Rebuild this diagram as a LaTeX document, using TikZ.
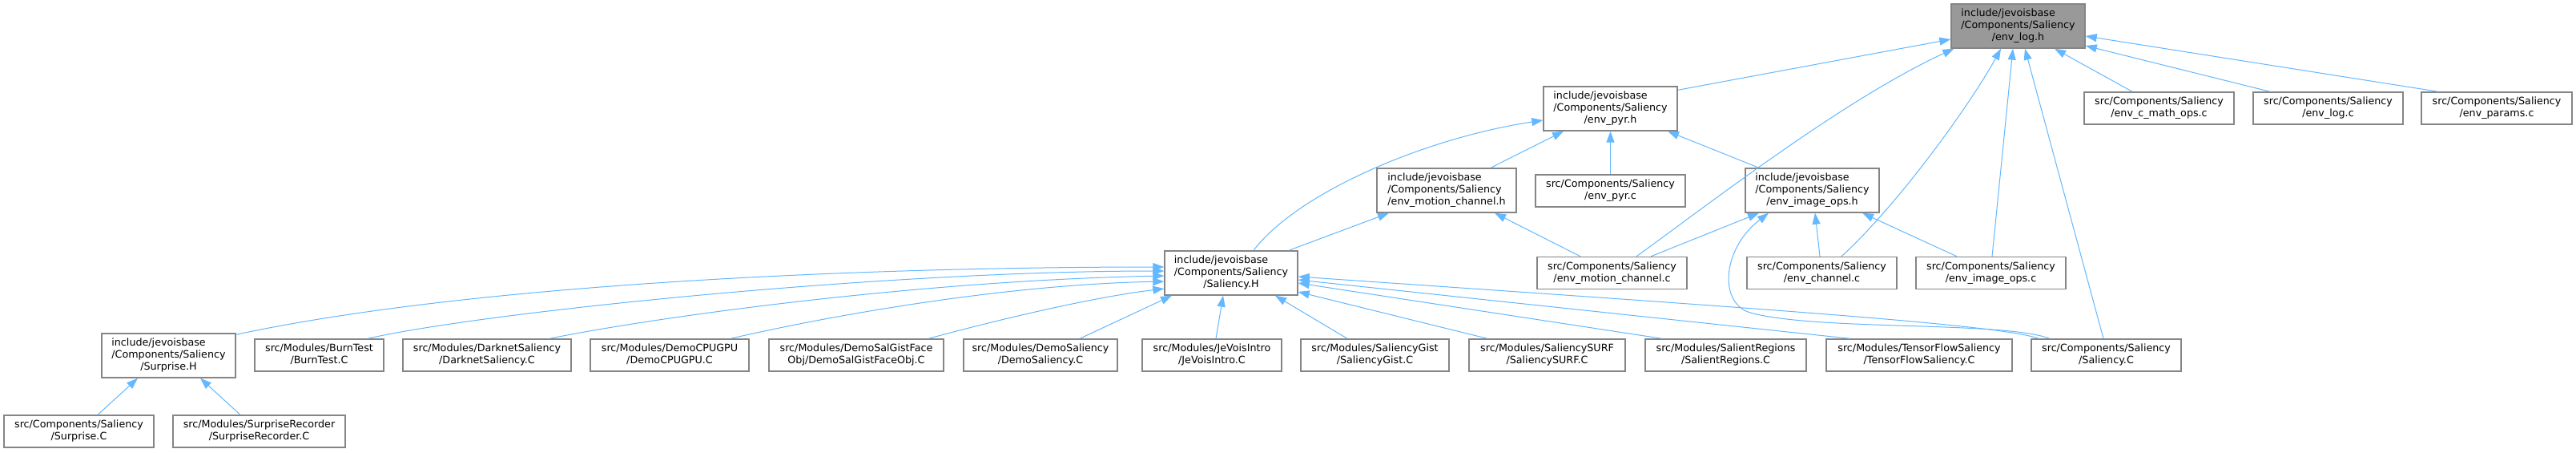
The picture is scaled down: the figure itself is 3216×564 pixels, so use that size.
\documentclass[tikz,border=0pt]{standalone}
\usepackage{fontspec}
\setmainfont{DejaVu Sans}
\usetikzlibrary{arrows.meta}
\definecolor{edgeblue}{HTML}{63B8FF}
\definecolor{greyforty}{HTML}{858585}
\definecolor{greysixty}{HTML}{999999}
\newcommand\tlab[3]{\begin{tabular}{@{}l@{}}#1\\#2\\\multicolumn{1}{@{}c@{}}{#3}\end{tabular}}
\newcommand\dlab[2]{\begin{tabular}{@{}l@{}}#1\\\multicolumn{1}{@{}c@{}}{#2}\end{tabular}}
\begin{document}
\begin{tikzpicture}[x=0.5pt,y=-0.5pt,
  nd/.style={draw=greyforty, fill=white, line width=0.7pt, inner xsep=1pt, inner ysep=0pt,
    font=\fontsize{6.35}{7.5}\selectfont, anchor=center, minimum height=20pt},
  thr/.style={nd, minimum height=27.5pt},
  edg/.style={draw=edgeblue, line width=0.5pt, -{Triangle[length=7pt,width=5pt]}, edgeblue}]
\fill[white] (0,0) rectangle (3216,564);
\path[use as bounding box] (0,0) rectangle (3216,564);
% nodes
\node[thr, fill=greysixty, minimum width=83.5pt] (envlogh) at (2519.5,32.5) {\tlab{include/jevoisbase}{/Components/Saliency}{/env\_log.h}};
\node[thr, minimum width=83.5pt] (envpyrh) at (2010.5,135.5) {\tlab{include/jevoisbase}{/Components/Saliency}{/env\_pyr.h}};
\node[nd, minimum width=93.5pt] (cmath) at (2695.5,135) {\dlab{src/Components/Saliency}{/env\_c\_math\_ops.c}};
\node[nd, minimum width=93.5pt] (envlogc) at (2906.5,135) {\dlab{src/Components/Saliency}{/env\_log.c}};
\node[nd, minimum width=94pt] (params) at (3117,135) {\dlab{src/Components/Saliency}{/env\_params.c}};
\node[thr, minimum width=87pt] (motionh) at (1806,237.5) {\tlab{include/jevoisbase}{/Components/Saliency}{/env\_motion\_channel.h}};
\node[nd, minimum width=93.5pt] (pyrc) at (2010.5,238) {\dlab{src/Components/Saliency}{/env\_pyr.c}};
\node[thr, minimum width=83.5pt] (imgopsh) at (2262.5,237.5) {\tlab{include/jevoisbase}{/Components/Saliency}{/env\_image\_ops.h}};
\node[thr, minimum width=83pt] (salH) at (1537,340.5) {\tlab{include/jevoisbase}{/Components/Saliency}{/Saliency.H}};
\node[nd, minimum width=93.5pt] (motionc) at (2012.5,340.5) {\dlab{src/Components/Saliency}{/env\_motion\_channel.c}};
\node[nd, minimum width=93.5pt] (chanc) at (2274.5,340.5) {\dlab{src/Components/Saliency}{/env\_channel.c}};
\node[nd, minimum width=93.5pt] (imgopsc) at (2485.5,340.5) {\dlab{src/Components/Saliency}{/env\_image\_ops.c}};
\node[thr, minimum width=83.5pt] (surpH) at (210.5,443.5) {\tlab{include/jevoisbase}{/Components/Saliency}{/Surprise.H}};
\node[nd, minimum width=80.5pt] (burn) at (398.5,443) {\dlab{src/Modules/BurnTest}{/BurnTest.C}};
\node[nd, minimum width=105pt] (darknet) at (608,443) {\dlab{src/Modules/DarknetSaliency}{/DarknetSaliency.C}};
\node[nd, minimum width=99pt] (cpugpu) at (836,443) {\dlab{src/Modules/DemoCPUGPU}{/DemoCPUGPU.C}};
\node[nd, minimum width=109pt] (facegist) at (1069,443) {\dlab{src/Modules/DemoSalGistFace}{Obj/DemoSalGistFaceObj.C}};
\node[nd, minimum width=96pt] (demosal) at (1299,443) {\dlab{src/Modules/DemoSaliency}{/DemoSaliency.C}};
\node[nd, minimum width=87pt] (jevois) at (1513,443) {\dlab{src/Modules/JeVoisIntro}{/JeVoisIntro.C}};
\node[nd, minimum width=92.5pt] (gist) at (1716.5,443) {\dlab{src/Modules/SaliencyGist}{/SaliencyGist.C}};
\node[nd, minimum width=97.5pt] (surf) at (1931.5,443) {\dlab{src/Modules/SaliencySURF}{/SaliencySURF.C}};
\node[nd, minimum width=100.5pt] (salreg) at (2154.5,443) {\dlab{src/Modules/SalientRegions}{/SalientRegions.C}};
\node[nd, minimum width=116pt] (tensor) at (2396,443) {\dlab{src/Modules/TensorFlowSaliency}{/TensorFlowSaliency.C}};
\node[nd, minimum width=93.5pt] (salC) at (2629.5,443) {\dlab{src/Components/Saliency}{/Saliency.C}};
\node[nd, minimum width=93.5pt] (surpC) at (98.5,538) {\dlab{src/Components/Saliency}{/Surprise.C}};
\node[nd, minimum width=107.5pt] (recorder) at (323.5,538) {\dlab{src/Modules/SurpriseRecorder}{/SurpriseRecorder.C}};
% edges into env_log.h
\draw[edg] ([yshift=-2.5pt]envpyrh.north east) -- ([yshift=-8.25pt]envlogh.west);
\draw[edg] ([xshift=15.25pt]motionc.north) .. controls (2133,255) and (2300,125) .. ([xshift=2pt]envlogh.south west);
\draw[edg] ([xshift=12.25pt]chanc.north) .. controls (2370,255) and (2460,130) .. ([xshift=-10.75pt]envlogh.south);
\draw[edg] ([xshift=0.75pt]imgopsc.north) -- ([xshift=-3.25pt]envlogh.south);
\draw[edg] ([xshift=-1.75pt]salC.north) -- ([xshift=4.25pt]envlogh.south);
\draw[edg] ([xshift=-16.75pt]cmath.north) -- ([xshift=22.75pt]envlogh.south);
\draw[edg] ([xshift=-36.25pt]envlogc.north) -- ([yshift=-12.25pt]envlogh.east);
\draw[edg] ([xshift=-36.5pt]params.north) -- ([yshift=-6.25pt]envlogh.east);
% edges into env_pyr.h
\draw[edg] ([xshift=27.5pt]motionh.north) -- ([xshift=-29.25pt]envpyrh.south);
\draw[edg] (pyrc.north) -- (envpyrh.south);
\draw[edg] ([xshift=-33.25pt]imgopsh.north) -- ([xshift=35.75pt]envpyrh.south);
\draw[edg] ([xshift=14pt]salH.north) .. controls (1620,240) and (1780,172) .. ([yshift=-7.25pt]envpyrh.west);
% edges into env_motion_channel.h
\draw[edg] ([xshift=36pt]salH.north) -- ([xshift=-36pt]motionh.south);
\draw[edg] ([xshift=-19.75pt]motionc.north) -- ([xshift=30pt]motionh.south);
% edges into env_image_ops.h
\draw[edg] ([xshift=24.25pt]motionc.north) -- ([xshift=-33.25pt]imgopsh.south);
\draw[edg] ([xshift=-1.25pt]chanc.north) -- ([xshift=1.75pt]imgopsh.south);
\draw[edg] ([xshift=-21.25pt]imgopsc.north) -- ([xshift=31.25pt]imgopsh.south);
\draw[edg] ([xshift=-35.25pt]salC.north) .. controls (2500,400) and (2270,413) .. (2185,390) .. controls (2145,378) and (2150,310) .. ([xshift=-27.25pt]imgopsh.south);
% edges into Saliency.H
\draw[edg] ([yshift=-1pt]surpH.north east) .. controls (600,352) and (1100,333) .. ([yshift=3.75pt]salH.west);
\draw[edg] ([xshift=30.25pt]burn.north) .. controls (600,390) and (1100,338) .. ([yshift=1.25pt]salH.west);
\draw[edg] ([xshift=39pt]darknet.north) .. controls (820,395) and (1150,350) .. ([yshift=-1.75pt]salH.west);
\draw[edg] ([xshift=38pt]cpugpu.north) .. controls (1030,395) and (1250,355) .. ([yshift=-5.25pt]salH.west);
\draw[edg] ([xshift=45pt]facegist.north) .. controls (1260,395) and (1370,370) .. ([yshift=-9.75pt]salH.west);
\draw[edg] ([xshift=24.5pt]demosal.north) -- ([xshift=-37pt]salH.south);
\draw[edg] ([xshift=2.5pt]jevois.north) -- ([xshift=-5pt]salH.south);
\draw[edg] ([xshift=-17.25pt]gist.north) -- ([xshift=27.5pt]salH.south);
\draw[edg] ([xshift=-37.25pt]surf.north) -- ([yshift=-11.75pt]salH.east);
\draw[edg] ([xshift=-39.75pt]salreg.north) -- ([yshift=-6.25pt]salH.east);
\draw[edg] ([xshift=-43pt]tensor.north) -- ([yshift=-4.25pt]salH.east);
\draw[edg] ([xshift=-42.25pt]salC.north) .. controls (2500,405) and (2200,385) .. ([yshift=-2.25pt]salH.east);
% edges into Surprise.H
\draw[edg] ([xshift=11.75pt]surpC.north) -- ([xshift=-19.25pt]surpH.south);
\draw[edg] ([xshift=-11.75pt]recorder.north) -- ([xshift=19.75pt]surpH.south);
\end{tikzpicture}
\end{document}
